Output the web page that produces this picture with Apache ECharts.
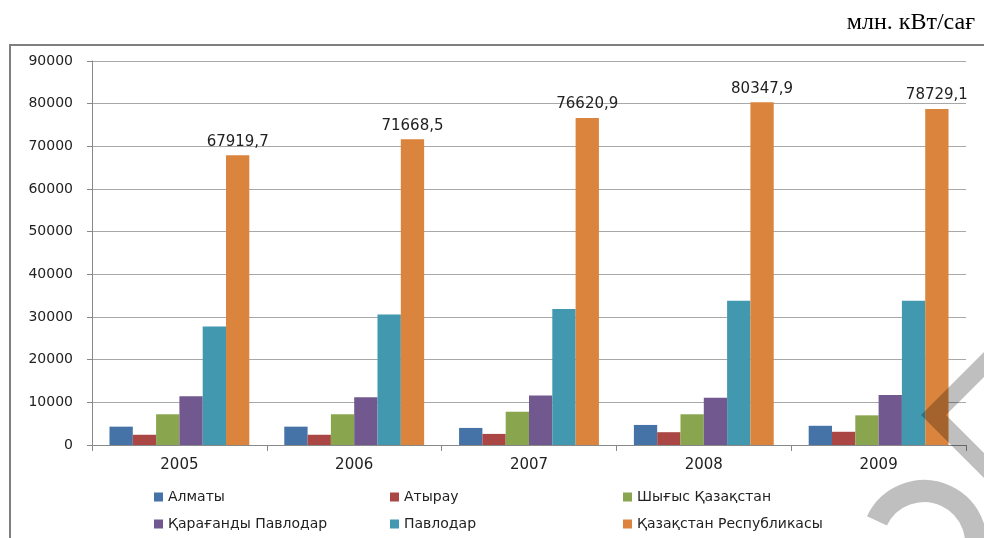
<!DOCTYPE html>
<html>
<head>
<meta charset="utf-8">
<script src="https://cdn.jsdelivr.net/npm/echarts@6/dist/echarts.min.js"></script>
<style>
html,body{margin:0;padding:0;background:#fff;}
#chart{width:984px;height:538px;}
</style>
</head>
<body>
<div id="chart"></div>
<script>
const years = ['2005', '2006', '2007', '2008', '2009'];
const seriesNames = ['Алматы', 'Атырау', 'Шығыс Қазақстан', 'Қарағанды Павлодар', 'Павлодар', 'Қазақстан Республикасы'];
const almaty = [4300, 4300, 4000, 4700, 4500];
const atyrau = [2400, 2400, 2600, 3000, 3100];
const shygys = [7200, 7200, 7800, 7200, 6950];
const karagandy = [11400, 11200, 11600, 11100, 11700];
const pavlodar = [27800, 30600, 31900, 33800, 33800];
const kazakhstan = [67919.7, 71668.5, 76620.9, 80347.9, 78729.1];
const yTicks = [0, 10000, 20000, 30000, 40000, 50000, 60000, 70000, 80000, 90000];
const unitText = 'млн. кВт/сағ';
const colors = ['#4572A7', '#AA4643', '#89A54E', '#71588F', '#4198AF', '#DB843D'];

const allData = [almaty, atyrau, shygys, karagandy, pavlodar, kazakhstan];
const font = "'DejaVu Sans', sans-serif";

const legendPos = [
  {left: 154, top: 490}, {left: 390, top: 490}, {left: 623, top: 490},
  {left: 154, top: 517}, {left: 390, top: 517}, {left: 623, top: 517}
];
const legends = seriesNames.map((n, i) => ({
  data: [n], left: legendPos[i].left, top: legendPos[i].top,
  padding: 0,
  icon: 'rect', itemWidth: 9, itemHeight: 9, itemGap: 0,
  selectedMode: false,
  textStyle: {fontFamily: font, fontSize: 14, color: '#222'}
}));

const series = seriesNames.map((n, i) => {
  const s = {
    name: n, type: 'bar', data: allData[i],
    itemStyle: {color: colors[i]},
    barGap: '0%', barCategoryGap: '20%'
  };
  if (i === 5) {
    s.label = {
      show: true, position: 'top', distance: 6,
      fontFamily: font, fontSize: 15, color: '#222',
      formatter: p => String(p.value).replace('.', ',')
    };
  }
  return s;
});

const chart = echarts.init(document.getElementById('chart'));
chart.setOption({
  animation: false,
  color: colors,
  legend: legends,
  grid: {left: 92, right: 18, top: 61, bottom: 93, containLabel: false},
  xAxis: {
    type: 'category', data: years, boundaryGap: true,
    axisLine: {lineStyle: {color: '#888', width: 1}},
    axisTick: {show: true, length: 6, lineStyle: {color: '#888'}},
    axisLabel: {fontFamily: font, fontSize: 15, color: '#222', margin: 13}
  },
  yAxis: {
    type: 'value', min: yTicks[0], max: yTicks[yTicks.length - 1], interval: yTicks[1] - yTicks[0],
    axisLine: {show: true, lineStyle: {color: '#888'}},
    axisTick: {show: true, length: 5, lineStyle: {color: '#888'}},
    splitLine: {lineStyle: {color: '#a8a8a8'}},
    axisLabel: {fontFamily: font, fontSize: 14, color: '#222', margin: 19,
      formatter: v => String(v)}
  },
  series: series,
  graphic: [
    {type: 'rect', shape: {x: 10, y: 45, width: 1000, height: 600},
     style: {fill: 'none', stroke: '#7f7f7f', lineWidth: 2}, z: 0, silent: true},
    {type: 'text', right: 9, top: 11,
     style: {text: unitText, font: "24px 'Liberation Serif', serif", fill: '#000'}},
    {type: 'polygon', z: 100, silent: true,
     shape: {points: [[921, 415], [990, 346], [990, 371], [946, 415], [990, 459], [990, 484]]},
     style: {fill: 'rgba(0,0,0,0.25)'}},
    {type: 'arc', z: 100, silent: true,
     shape: {cx: 924, cy: 543, r: 52, startAngle: Math.PI * 1.14, endAngle: Math.PI * 2.25, clockwise: true},
     style: {fill: 'none', stroke: 'rgba(0,0,0,0.25)', lineWidth: 22}}
  ]
});
</script>
</body>
</html>
